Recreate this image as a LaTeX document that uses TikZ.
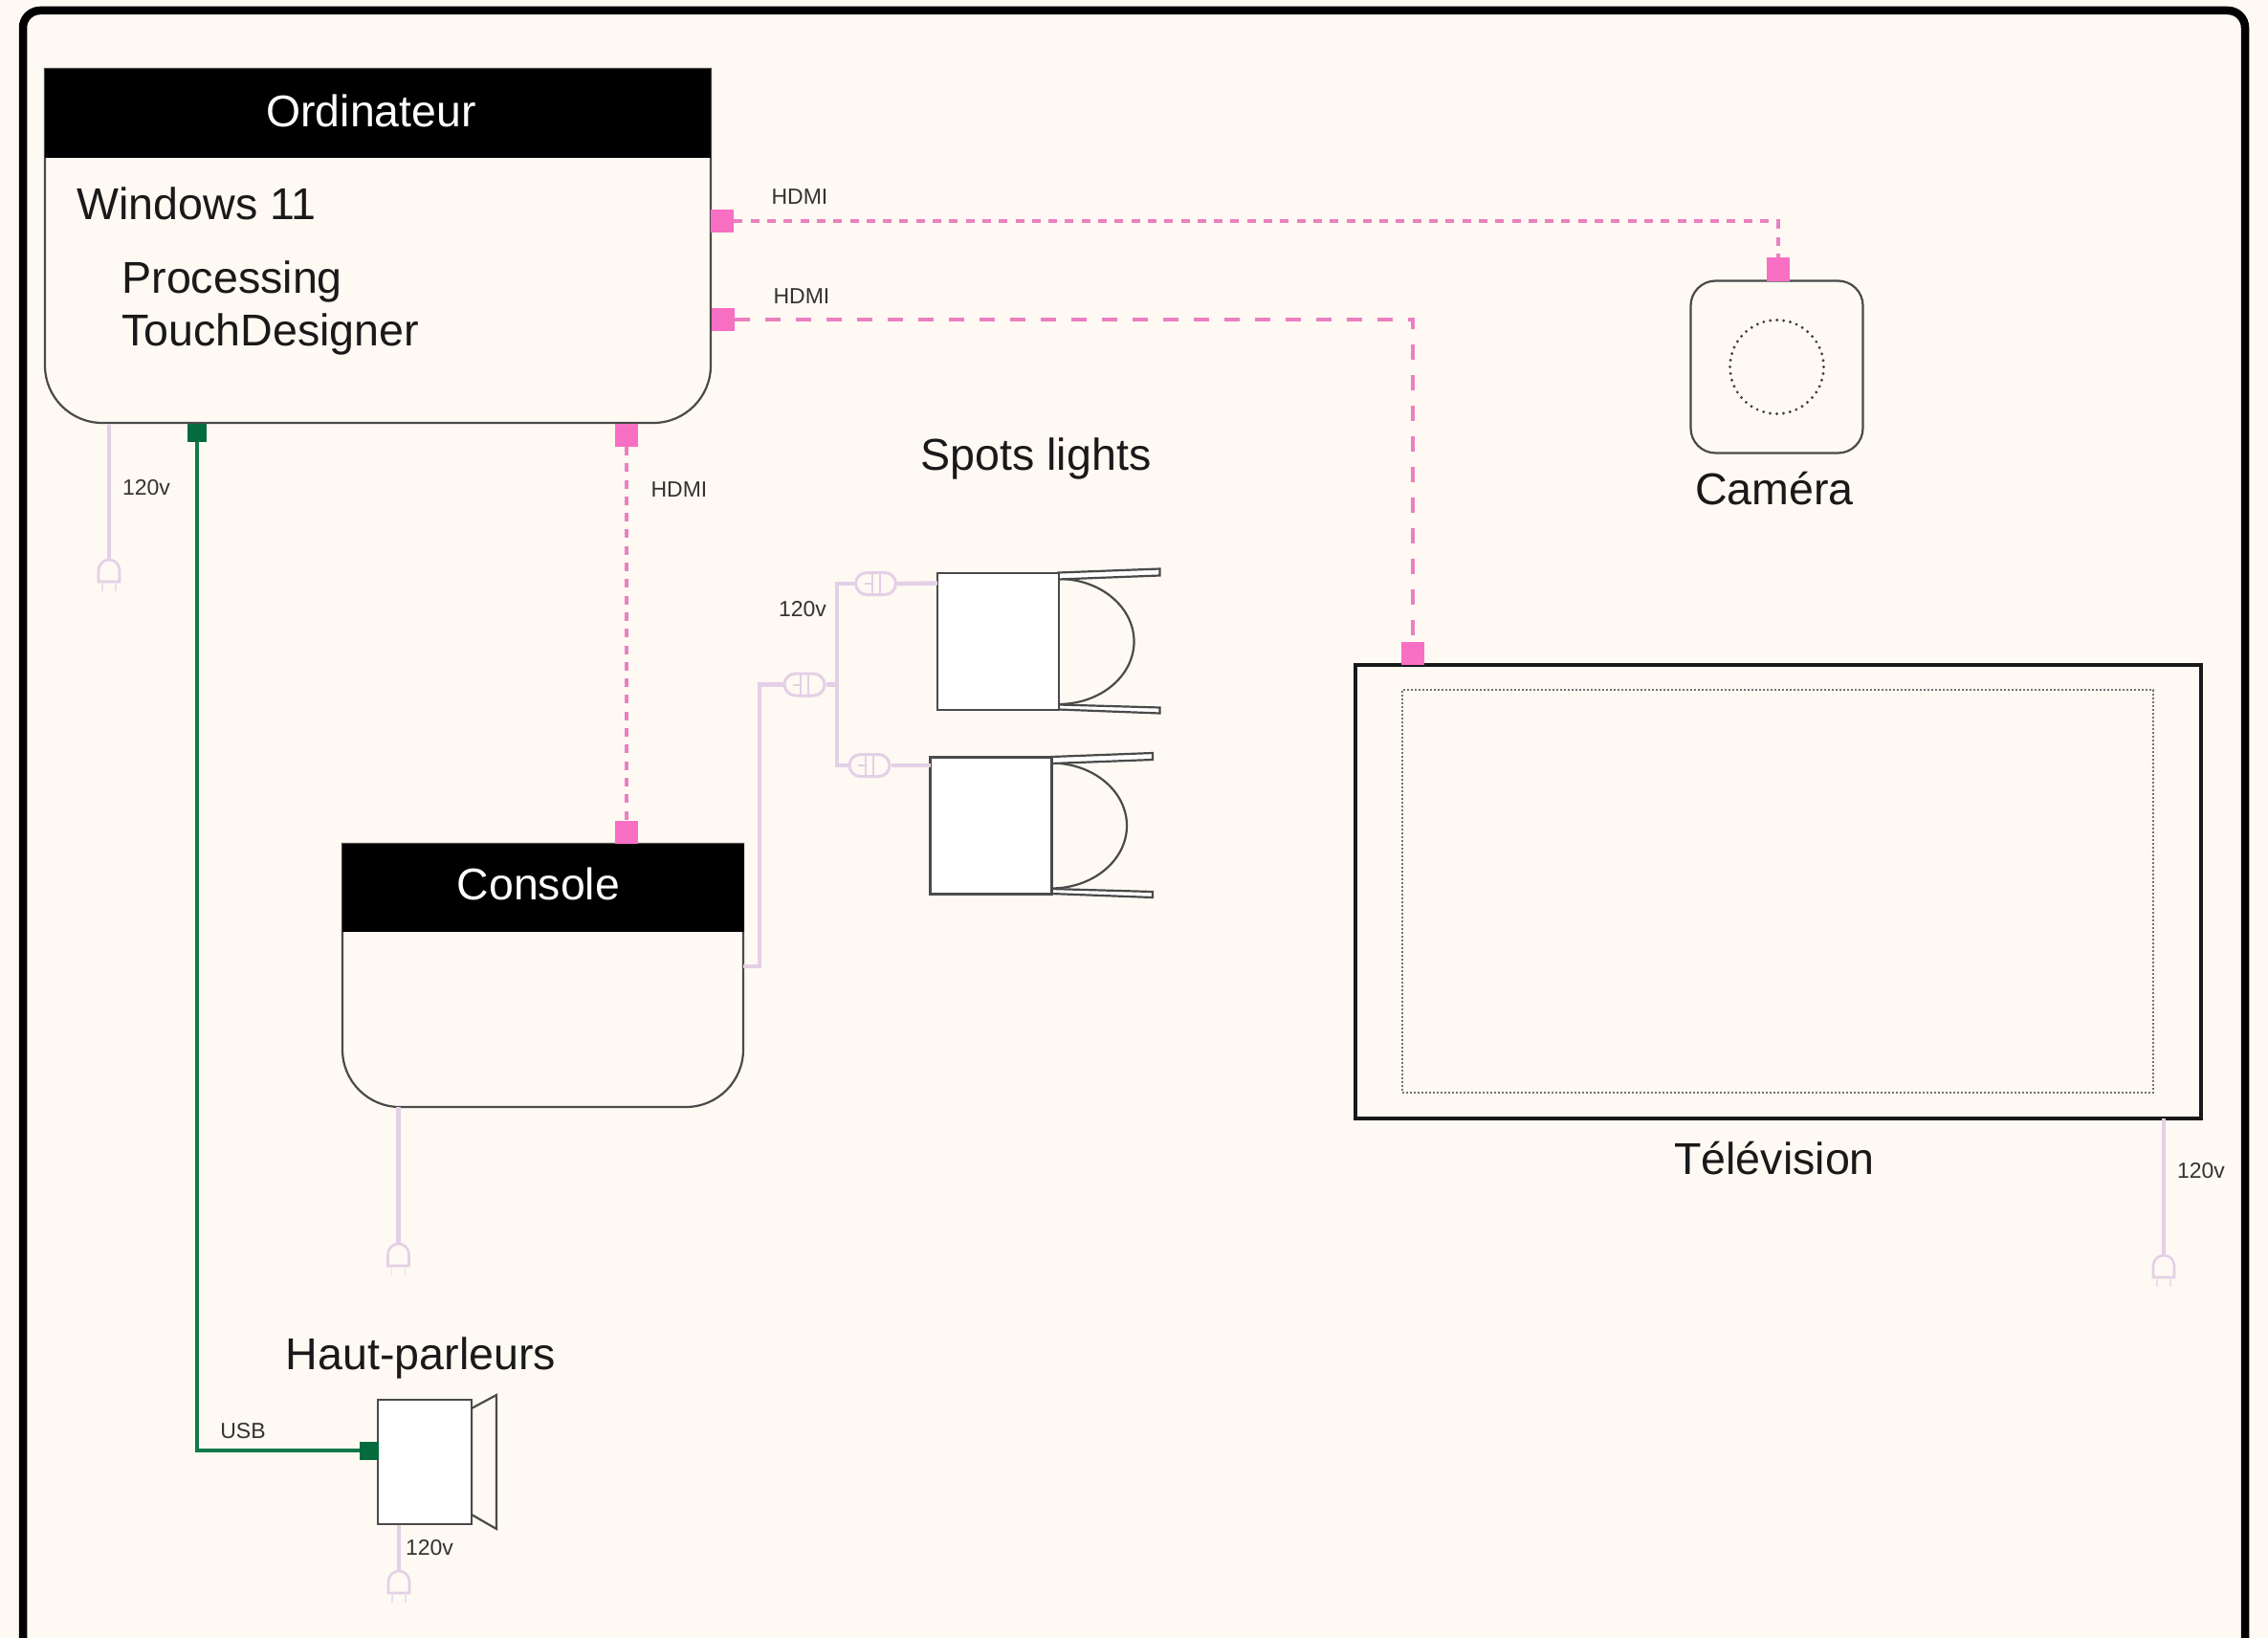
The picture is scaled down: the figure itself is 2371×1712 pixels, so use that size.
\documentclass[tikz,border=0pt]{standalone}
\usepackage{fontspec}
\setmainfont{Liberation Sans}
\definecolor{pagebg}{HTML}{FEF9F3}
\definecolor{hot}{HTML}{F96FC4}
\definecolor{hotline}{HTML}{EC7FC2}
\definecolor{lilac}{HTML}{E4D0E6}
\definecolor{greenline}{HTML}{13784A}
\definecolor{greensq}{HTML}{066B3C}
\definecolor{edge}{HTML}{4A4A4A}
\tikzset{
  x=0.5pt,y=-0.5pt,
  bigtext/.style={font=\fontsize{23.3}{27}\selectfont,text=black!90,inner sep=0pt},
  smalltext/.style={font=\fontsize{11.5}{14}\selectfont,text=black!80,inner sep=0pt},
  hdrtext/.style={font=\fontsize{23.2}{27}\selectfont,text=white,inner sep=0pt},
  outline/.style={draw=edge,line width=1.1pt},
  portpink/.style={fill=hot,draw=none,inner sep=0pt,minimum width=12pt,minimum height=12pt},
  portgreen/.style={fill=greensq,draw=none,inner sep=0pt,minimum width=10pt,minimum height=9.5pt},
  hdmidot/.style={draw=hotline,line width=2pt,dash pattern=on 4.5pt off 4.15pt},
  hdmidash/.style={draw=hotline,line width=2pt,dash pattern=on 8pt off 8pt},
  power/.style={draw=lilac,line width=2.2pt},
  usb/.style={draw=greenline,line width=2.2pt},
  pill/.style={draw=lilac,line width=1.5pt,fill=pagebg,rounded corners=5.8pt,inner sep=0pt,minimum width=21pt,minimum height=11.5pt},
  plug/.pic={
    \draw[lilac,line width=1.3pt,fill=pagebg] (-11,23) -- (-11,11) arc[start angle=180,end angle=360,x radius=11,y radius=11] -- (11,23) -- cycle;
    \draw[lilac!70,line width=0.8pt] (-7,23) -- (-7,33) (7,23) -- (7,33);
  },
  spotlamp/.pic={
    \node[draw=edge,line width=1.1pt,fill=white,minimum width=18pt,minimum height=10pt,inner sep=0pt] at (-18,0) {};
    \draw[edge,line width=1.1pt] (63,-65.5) arc[start angle=-90,end angle=90,x radius=79,y radius=65.5];
    \draw[edge,line width=1.1pt,fill=white] (63,-72) -- (169,-76) -- (169,-69) -- (63,-65) -- cycle;
    \draw[edge,line width=1.1pt,fill=white] (63,66) -- (169,69) -- (169,75) -- (63,71) -- cycle;
    \node[draw=edge,line width=1.1pt,fill=white,minimum width=63.5pt,minimum height=71.5pt,inner sep=0pt] at (0,0) {};
  }
}
\newcommand{\pillmark}[1]{%
  \draw[lilac,line width=1pt] ([xshift=-2pt]#1.north) -- ([xshift=-2pt]#1.south)
    ([xshift=2pt]#1.north) -- ([xshift=2pt]#1.south)
    ([xshift=-6pt]#1.center) -- ([xshift=-2pt]#1.center);}
\begin{document}
\begin{tikzpicture}
\useasboundingbox (0,0) rectangle (2371,1712);
\clip (0,0) rectangle (2371,1712);
\fill[pagebg] (0,0) rectangle (2371,1712);
% frame, open past the bottom edge
\draw[black,line width=4.25pt,rounded corners=9pt] (24,1760) -- (24,11) -- (2347,11) -- (2347,1760);

% computer
\draw[outline] (47,72) -- (47,382) arc[start angle=180,end angle=90,radius=60] -- (683,442) arc[start angle=90,end angle=0,radius=60] -- (743,72) -- cycle;
\node[fill=black,inner sep=0pt,minimum width=348pt,minimum height=46.5pt] (ordhdr) at (395,118.5) {};
\node[hdrtext] (ordtxt) at (388,116) {Ordinateur};
\node[bigtext,anchor=west] (win) at (80,213) {Windows 11};
\node[bigtext,anchor=west] (proc) at (127,294) {Processing};
\node[bigtext,anchor=west] (td) at (127,349) {TouchDesigner};

% console
\draw[outline] (358,882) -- (358,1097) arc[start angle=180,end angle=90,radius=60] -- (717,1157) arc[start angle=90,end angle=0,radius=60] -- (777,882) -- cycle;
\node[fill=black,inner sep=0pt,minimum width=210pt,minimum height=46pt] (conshdr) at (567.5,928) {};
\node[hdrtext] (constxt) at (563,924) {Console};

% camera
\node[draw=edge,line width=1.1pt,rounded corners=13pt,minimum width=90pt,minimum height=90pt,inner sep=0pt] (cam) at (1857.5,383.5) {};
\draw[black!75,line width=1.6pt,line cap=round,dash pattern=on 0pt off 3.5pt] (cam.center) circle[radius=49];
\node[bigtext] (camlbl) at (1855,511) {Caméra};

% television
\node[draw=black!90,line width=1.6pt,fill=none,minimum width=442pt,minimum height=237pt,inner sep=0pt] (tv) at (1859,932) {};
\node[draw=black!55,line width=0.6pt,dash pattern=on 1pt off 1pt,minimum width=392.5pt,minimum height=210.5pt,inner sep=0pt] (tvin) at (1858.5,931.5) {};
\node[bigtext] (tvlbl) at (1855,1211) {Télévision};

% HDMI ports and links
\node[portpink] (hA) at (755,231.5) {};
\node[portpink] (hB) at (1858.5,281.5) {};
\node[portpink] (hC) at (755.5,333.5) {};
\node[portpink] (hD) at (1477,682.5) {};
\node[portpink] (hE) at (655,454.5) {};
\node[portpink] (hF) at (655,869.5) {};
\draw[hdmidot] (hA.east) -| (hB.north);
\draw[hdmidash] (hC.east) -| (hD.north);
\draw[hdmidot] (hE.south) -- (hF.north);
\node[smalltext] (l1) at (836,206) {HDMI};
\node[smalltext] (l2) at (838,310) {HDMI};
\node[smalltext] (l3) at (710,512) {HDMI};

% power cords
\coordinate (pOrdA) at (114,443); \coordinate (pOrdB) at (114,585);
\coordinate (pConsA) at (416.5,1157); \coordinate (pConsB) at (416.5,1300);
\coordinate (pTvA) at (2262,1169); \coordinate (pTvB) at (2262,1312);
\coordinate (pSpkA) at (417,1593); \coordinate (pSpkB) at (417,1642);
\draw[power] (pOrdA) -- (pOrdB);
\draw[power] (pConsA) -- (pConsB);
\draw[power] (pTvA) -- (pTvB);
\draw[power] (pSpkA) -- (pSpkB);
\pic at (pOrdB) {plug};
\pic at (pConsB) {plug};
\pic at (pTvB) {plug};
\pic at (pSpkB) {plug};
\node[smalltext] (v1) at (153,510) {120v};
\node[smalltext] (v2) at (2301,1224) {120v};
\node[smalltext] (v3) at (449,1618) {120v};
\node[smalltext] (v4) at (839,637) {120v};

% spot lights
\node[bigtext] (spotlbl) at (1083,479) {Spots lights};
\pic at (1043.5,670.5) {spotlamp};
\pic at (1036,863) {spotlamp};
\coordinate (s1in) at (980,609.5);
\coordinate (s2in) at (973,800);
\coordinate (cOut) at (777,1010);
\coordinate (tee) at (875,715.5);
\node[pill] (p0) at (841,715.5) {};
\node[pill] (p1) at (915.5,610) {};
\node[pill] (p2) at (909,800) {};
\draw[power] (cOut) -- (794,1010) |- (p0.west);
\draw[power] (p0.east) -- (tee);
\draw[power] (tee) |- (p1.west);
\draw[power] (tee) |- (p2.west);
\draw[power] (p1.east) -- (s1in);
\draw[power] (p2.east) -- (s2in);
\pillmark{p0}\pillmark{p1}\pillmark{p2}

% speaker
\draw[edge,line width=1.1pt,fill=pagebg] (493,1472) -- (519,1458) -- (519,1598) -- (493,1583) -- cycle;
\node[draw=edge,line width=1.1pt,fill=white,minimum width=49pt,minimum height=65pt,inner sep=0pt] (spk) at (444,1528) {};
\node[bigtext] (spklbl) at (440,1419) {Haut-parleurs};

% USB
\node[portgreen] (uA) at (206,452) {};
\node[portgreen] (uB) at (386,1516) {};
\draw[usb] (uA.south) |- (uB.west);
\node[smalltext] (usbl) at (254,1496) {USB};
\end{tikzpicture}
\end{document}
